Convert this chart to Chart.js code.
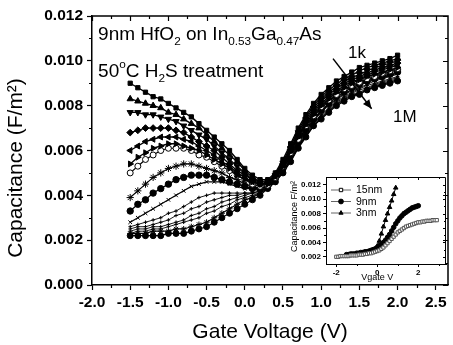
<!DOCTYPE html>
<html><head><meta charset="utf-8">
<script src="https://cdn.jsdelivr.net/npm/chart.js@4.4.1/dist/chart.umd.min.js"></script>
<style>
html,body{margin:0;padding:0;background:#fff;}
#wrap{position:relative;width:453px;height:345px;overflow:hidden;background:#fff;}
#main{position:absolute;left:0;top:0;}
#inset{position:absolute;left:280px;top:168px;}
</style></head><body>
<div id="wrap"><canvas id="main" width="453" height="345"></canvas><canvas id="inset" width="173" height="117"></canvas></div>
<script>
// ---------- DATA (main chart) ----------
const gateVoltage = [-1.5,-1.4,-1.3,-1.2,-1.1,-1.0,-0.9,-0.8,-0.7,-0.6,-0.5,-0.4,-0.3,-0.2,-0.1,0.0,0.1,0.2,0.3,0.4,0.5,0.6,0.7,0.8,0.9,1.0,1.1,1.2,1.3,1.4,1.5,1.6,1.7,1.8,1.9,2.0];
const cap01 = [0.0090,0.0088,0.0086,0.0084,0.0083,0.0081,0.0079,0.0077,0.0075,0.0072,0.0069,0.0066,0.0063,0.0060,0.0056,0.0052,0.0049,0.0047, 0.0047,0.0050,0.0056,0.0063,0.0070,0.0076,0.0081,0.0085,0.0088,0.0091,0.0093,0.0095,0.0097,0.0098,0.0099,0.0100,0.0101,0.01025];
const cap02 = [0.0083,0.0082,0.0081,0.0080,0.0079,0.0077,0.0076,0.0074,0.0072,0.0070,0.0067,0.0064,0.0061,0.0058,0.0055,0.0051,0.0048,0.0046, 0.0046,0.00495,0.0055,0.0062,0.0069,0.0075,0.0080,0.0084,0.0087,0.00895,0.0092,0.00935,0.00955,0.0097,0.0098,0.0099,0.0100,0.0101];
const cap03 = [0.0077,0.0077,0.0076,0.0076,0.0075,0.0074,0.0073,0.0071,0.0069,0.0067,0.0065,0.0062,0.0059,0.0056,0.0053,0.0050,0.0047,0.0046, 0.0046,0.0049,0.00545,0.0061,0.0068,0.0074,0.0079,0.0083,0.0086,0.00885,0.0091,0.00925,0.0094,0.00955,0.0097,0.0098,0.0099,0.0100];
const cap04 = [0.0068,0.0069,0.0070,0.0070,0.0070,0.0070,0.0069,0.0068,0.0066,0.0064,0.0062,0.0060,0.0057,0.0054,0.0051,0.0049,0.0047,0.0045, 0.00455,0.0049,0.0054,0.00605,0.0067,0.0073,0.0078,0.0082,0.0085,0.00875,0.0090,0.00915,0.0093,0.00945,0.0096,0.0097,0.0098,0.0099];
const cap05 = [0.0060,0.0062,0.0064,0.0065,0.0066,0.0066,0.0066,0.0065,0.0064,0.0062,0.0060,0.0058,0.0055,0.0053,0.0050,0.0048,0.0046,0.0045, 0.00455,0.00485,0.00535,0.0060,0.00665,0.0072,0.0077,0.0081,0.0084,0.00865,0.0089,0.00905,0.0092,0.00935,0.0095,0.0096,0.0097,0.0098];
const cap06 = [0.0054,0.0057,0.0059,0.0061,0.0062,0.0063,0.0063,0.0062,0.0061,0.0060,0.0058,0.0056,0.0054,0.0052,0.0049,0.0047,0.0046,0.0045, 0.0045,0.00485,0.0053,0.00595,0.0066,0.00715,0.0076,0.0080,0.0083,0.0086,0.0088,0.0090,0.00915,0.0093,0.0094,0.0095,0.0096,0.0097];
const cap07 = [0.0050,0.0053,0.0056,0.0058,0.0060,0.0061,0.0061,0.0061,0.0060,0.0058,0.0057,0.0055,0.0053,0.0051,0.0049,0.0047,0.0045,0.0044, 0.00445,0.0048,0.0053,0.0059,0.0065,0.0071,0.00755,0.00795,0.00825,0.0085,0.00875,0.0089,0.00905,0.0092,0.0093,0.00945,0.00955,0.00965];
const cap08 = [0.0039,0.0042,0.0045,0.0048,0.0050,0.0052,0.0053,0.0054,0.0054,0.0053,0.0052,0.0051,0.0050,0.0048,0.0047,0.0045,0.0044,0.0043, 0.0044,0.00475,0.00525,0.00585,0.00645,0.0070,0.0075,0.0079,0.0082,0.00845,0.0087,0.00885,0.0090,0.00915,0.00925,0.0094,0.0095,0.0096];
const cap09 = [0.0033,0.0036,0.0038,0.0041,0.0043,0.0045,0.0047,0.0048,0.0049,0.0049,0.0049,0.0048,0.0047,0.0046,0.0045,0.0044,0.0043,0.0043, 0.0044,0.00475,0.0052,0.0058,0.0064,0.00695,0.0074,0.0078,0.0081,0.0084,0.0086,0.0088,0.00895,0.0091,0.0092,0.0093,0.0094,0.0095];
const cap10 = [0.0028,0.0030,0.0032,0.0034,0.0036,0.0038,0.0040,0.0042,0.0044,0.0045,0.0046,0.0046,0.0046,0.0045,0.0044,0.0043,0.0043,0.0042, 0.00435,0.0047,0.0052,0.00575,0.00635,0.0069,0.00735,0.00775,0.00805,0.0083,0.00855,0.0087,0.0089,0.00905,0.00915,0.00925,0.00935,0.00945];
const cap11 = [0.0026,0.0027,0.0028,0.0029,0.0030,0.0032,0.0033,0.0035,0.0037,0.0039,0.0040,0.0041,0.0041,0.0041,0.0041,0.0041,0.0041,0.0042, 0.0043,0.0047,0.00515,0.0057,0.0063,0.00685,0.0073,0.0077,0.0080,0.00825,0.0085,0.00865,0.0088,0.00895,0.0091,0.0092,0.0093,0.0094];
const cap12 = [0.0025,0.0026,0.0026,0.0027,0.0028,0.0029,0.0031,0.0032,0.0034,0.0035,0.0037,0.0038,0.0039,0.0040,0.0040,0.0041,0.0041,0.0042, 0.0043,0.00465,0.0051,0.00565,0.00625,0.0068,0.00725,0.0076,0.0079,0.0082,0.0084,0.0086,0.00875,0.0089,0.0090,0.0091,0.0092,0.0093];
const cap13 = [0.0024,0.0025,0.0025,0.0026,0.0026,0.0027,0.0028,0.0029,0.0031,0.0032,0.0034,0.0035,0.0037,0.0038,0.0039,0.0040,0.0041,0.0041, 0.0043,0.00465,0.0051,0.0056,0.0062,0.00675,0.0072,0.00755,0.00785,0.00815,0.00835,0.00855,0.0087,0.0088,0.00895,0.00905,0.00915,0.00925];
const cap14 = [0.0023,0.0024,0.0024,0.0025,0.0025,0.0026,0.0027,0.0028,0.0029,0.0030,0.0032,0.0033,0.0035,0.0036,0.0038,0.0039,0.0040,0.0041, 0.0043,0.0046,0.00505,0.0056,0.00615,0.0067,0.00715,0.0075,0.0078,0.0081,0.0083,0.0085,0.0086,0.00875,0.0089,0.0090,0.0091,0.0092];
const cap15 = [0.0023,0.0023,0.0023,0.0024,0.0024,0.0024,0.0025,0.0025,0.0026,0.0027,0.0028,0.0030,0.0032,0.0034,0.0036,0.0038,0.0039,0.0041, 0.0043,0.0046,0.00505,0.00555,0.00615,0.00665,0.0071,0.00745,0.00775,0.00805,0.00825,0.00845,0.00855,0.0087,0.00885,0.00895,0.00905,0.00915];
const cap16 = [0.0022,0.0022,0.0022,0.0022,0.0022,0.0023,0.0023,0.0023,0.0024,0.0025,0.0026,0.0028,0.0030,0.0032,0.0034,0.0036,0.0038,0.0040, 0.0043,0.0046,0.0050,0.0055,0.0061,0.0066,0.0071,0.0074,0.0077,0.0080,0.0082,0.0084,0.0085,0.0087,0.0088,0.0089,0.0090,0.0091];
const capCurves = [cap01,cap02,cap03,cap04,cap05,cap06,cap07,cap08,cap09,cap10,cap11,cap12,cap13,cap14,cap15,cap16];
const mainXTicks = [-2.0,-1.5,-1.0,-0.5,0.0,0.5,1.0,1.5,2.0,2.5];
const mainYTicks = [0.000,0.002,0.004,0.006,0.008,0.010,0.012];

// ---------- DATA (inset) ----------
const insetV15 = [-2.0,-1.9,-1.8,-1.7,-1.6,-1.5,-1.4,-1.3,-1.2,-1.1,-1.0,-0.9,-0.8,-0.7,-0.6,-0.5,-0.4,-0.3,-0.2,-0.1,0.0,0.1,0.2,0.3,0.4,0.5,0.6,0.7,0.8,0.9,1.0,1.1,1.2,1.3,1.4,1.5,1.6,1.7,1.8,1.9,2.0,2.1,2.2,2.3,2.4,2.5,2.6,2.7,2.8,2.9];
const insetC15 = [0.0020,0.0020,0.0021,0.0021,0.0021,0.0021,0.0021,0.0022,0.0022,0.0022,0.0022,0.0023,0.0023,0.0023,0.0024,0.0024,0.0025,0.0025,0.0026,0.0027,0.0028,0.0029,0.0031,0.0033,0.0036,0.0039,0.0042,0.0045,0.0048,0.0051,0.0054,0.0056,0.0058,0.0060,0.0062,0.0063,0.0064,0.0065,0.0066,0.0067,0.0068,0.0068,0.0069,0.0069,0.0070,0.0070,0.0070,0.0071,0.0071,0.0071];
const insetV9 = [-1.5,-1.4,-1.3,-1.2,-1.1,-1.0,-0.9,-0.8,-0.7,-0.6,-0.5,-0.4,-0.3,-0.2,-0.1,0.0,0.1,0.2,0.3,0.4,0.5,0.6,0.7,0.8,0.9,1.0,1.1,1.2,1.3,1.4,1.5,1.6,1.7,1.8,1.9,2.0];
const insetC9 = [0.0023,0.0023,0.0024,0.0024,0.0024,0.0025,0.0025,0.0026,0.0026,0.0027,0.0027,0.0028,0.0029,0.0030,0.0031,0.0033,0.0035,0.0037,0.0040,0.0043,0.0047,0.0051,0.0056,0.0061,0.0066,0.0070,0.0074,0.0077,0.0080,0.0082,0.0084,0.0086,0.0088,0.0089,0.0090,0.0091];
const insetV3 = [-0.3,-0.2,-0.1,0.0,0.1,0.2,0.3,0.4,0.5,0.6,0.7,0.8,0.9];
const insetC3 = [0.0028,0.0029,0.0031,0.0035,0.0042,0.0052,0.0062,0.0071,0.0080,0.0089,0.0098,0.0107,0.0116];
const insetXTicks = [-2,0,2];
const insetYTicks = [0.002,0.004,0.006,0.008,0.010,0.012];

// ---------- STYLE ----------
const FONT = "'Liberation Sans', Arial, Helvetica, sans-serif";
const curveStyles = [
  {ps:'rect', r:3, fill:'#000', rot:0, bw:1.4},
  {ps:'triangle', r:3.6, fill:'#000', rot:0, bw:1.4},
  {ps:'triangle', r:3.6, fill:'#000', rot:180, bw:1.4},
  {ps:'rectRot', r:3.4, fill:'#000', rot:0, bw:1.4},
  {ps:'triangle', r:3.4, fill:'#000', rot:270, bw:1.4},
  {ps:'triangle', r:3.4, fill:'#000', rot:90, bw:1.4},
  {ps:'circle', r:3, fill:'#fff', rot:0, bw:1.2},
  {ps:'star', r:3.6, fill:'#000', rot:0, bw:1.2},
  {ps:'circle', r:3.2, fill:'#000', rot:0, bw:1.2},
  {ps:'crossRot', r:2.6, fill:'#000', rot:0, bw:1.2},
  {ps:'cross', r:1.8, fill:'#000', rot:0, bw:0.9},
  {ps:'cross', r:1.8, fill:'#000', rot:0, bw:0.9},
  {ps:'cross', r:1.8, fill:'#000', rot:0, bw:0.9},
  {ps:'cross', r:1.8, fill:'#000', rot:0, bw:0.9},
  {ps:'star', r:3, fill:'#000', rot:0, bw:1.2},
  {ps:'circle', r:3, fill:'#000', rot:0, bw:1.2}
];

function richText(ctx, x, y, parts, size) {
  let cx = x;
  for (const [t, m] of parts) {
    const s = m ? size * 0.62 : size;
    ctx.font = s + 'px ' + FONT;
    const dy = m === 1 ? size * 0.28 : (m === 2 ? -size * 0.45 : 0);
    ctx.fillText(t, cx, y + dy);
    cx += ctx.measureText(t).width;
  }
  return cx;
}

const mainDecor = {
  id: 'mainDecor',
  afterDraw(chart) {
    const {ctx, chartArea: a, scales: {x, y}} = chart;
    ctx.save();
    ctx.strokeStyle = '#000'; ctx.fillStyle = '#000';
    ctx.lineWidth = 1.5;
    ctx.beginPath(); ctx.moveTo(a.left, a.top); ctx.lineTo(a.right, a.top); ctx.lineTo(a.right, a.bottom); ctx.stroke();
    ctx.lineWidth = 1.2;
    ctx.beginPath();
    for (let v = -2.0; v <= 2.66; v += 0.25) {
      const px = Math.round(x.getPixelForValue(v)) + 0.5;
      const major = Math.abs(v * 2 - Math.round(v * 2)) < 1e-6;
      if (!major) { ctx.moveTo(px, a.bottom); ctx.lineTo(px, a.bottom + 3); }
      ctx.moveTo(px, a.top); ctx.lineTo(px, a.top + (major ? 5 : 3));
    }
    for (let v = 0; v <= 0.01201; v += 0.001) {
      const py = Math.round(y.getPixelForValue(v)) + 0.5;
      const major = Math.round(v * 1000) % 2 === 0;
      if (!major) { ctx.moveTo(a.left, py); ctx.lineTo(a.left - 3, py); }
      ctx.moveTo(a.right, py); ctx.lineTo(a.right - (major ? 5 : 3), py);
    }
    ctx.stroke();
    // annotation texts
    ctx.textAlign = 'left'; ctx.textBaseline = 'alphabetic';
    richText(ctx, x.getPixelForValue(-1.92), y.getPixelForValue(0.01094),
      [['9nm HfO',0],['2',1],[' on In',0],['0.53',1],['Ga',0],['0.47',1],['As',0]], 19);
    richText(ctx, x.getPixelForValue(-1.92), y.getPixelForValue(0.00929),
      [['50',0],['o',2],['C H',0],['2',1],['S treatment',0]], 19);
    richText(ctx, x.getPixelForValue(1.35), y.getPixelForValue(0.01013), [['1k',0]], 17);
    richText(ctx, x.getPixelForValue(1.94), y.getPixelForValue(0.00725), [['1M',0]], 17);
    // arrow
    const x0 = x.getPixelForValue(1.155), y0 = y.getPixelForValue(0.01010);
    const x1 = x.getPixelForValue(1.66), y1 = y.getPixelForValue(0.00786);
    ctx.lineWidth = 1.5;
    ctx.beginPath(); ctx.moveTo(x0, y0); ctx.lineTo(x1, y1); ctx.stroke();
    const ang = Math.atan2(y1 - y0, x1 - x0), L = 9, W = 4;
    ctx.beginPath();
    ctx.moveTo(x1, y1);
    ctx.lineTo(x1 - L * Math.cos(ang) + W * Math.sin(ang), y1 - L * Math.sin(ang) - W * Math.cos(ang));
    ctx.lineTo(x1 - L * Math.cos(ang) - W * Math.sin(ang), y1 - L * Math.sin(ang) + W * Math.cos(ang));
    ctx.closePath(); ctx.fill();
    // y title
    ctx.save();
    ctx.translate(16, 168); ctx.rotate(-Math.PI / 2);
    ctx.font = '21px ' + FONT; ctx.textAlign = 'center'; ctx.textBaseline = 'middle';
    ctx.fillText('Capacitance (F/m\u00B2)', 0, 0);
    ctx.restore();
    ctx.restore();
  }
};

const mainDatasets = capCurves.map((c, i) => {
  const s = curveStyles[i];
  return {
    data: gateVoltage.map((v, j) => ({x: v, y: c[j]})),
    borderColor: '#000', borderWidth: s.bw, backgroundColor: s.fill,
    pointStyle: s.ps, pointRadius: s.r, pointRotation: s.rot,
    pointBackgroundColor: s.fill, pointBorderColor: '#000', pointBorderWidth: 1,
    fill: false, tension: 0
  };
});

new Chart(document.getElementById('main'), {
  type: 'line',
  data: {datasets: mainDatasets},
  options: {
    responsive: false, animation: false, devicePixelRatio: 1,
    layout: {padding: {top: 16, right: 1, left: 0, bottom: 0}},
    plugins: {legend: {display: false}, tooltip: {enabled: false}},
    scales: {
      x: {
        type: 'linear', min: -2.0, max: 2.66,
        afterBuildTicks: s => { s.ticks = mainXTicks.map(v => ({value: v})); },
        afterFit: s => { s.height = 60; },
        ticks: {color: '#000', font: {family: FONT, size: 15.5, weight: 'bold'}, padding: 3, maxRotation: 0,
          callback: v => Number(v).toFixed(1)},
        grid: {drawOnChartArea: false, tickLength: 5, color: '#000', tickWidth: 1.2},
        border: {display: true, color: '#000', width: 1.5},
        title: {display: true, text: 'Gate Voltage (V)', color: '#000', font: {family: FONT, size: 21}, padding: {top: 0, bottom: 0}}
      },
      y: {
        type: 'linear', min: 0, max: 0.012,
        afterBuildTicks: s => { s.ticks = mainYTicks.map(v => ({value: v})); },
        afterFit: s => { s.width = 92; },
        ticks: {color: '#000', font: {family: FONT, size: 15.5, weight: 'bold'}, padding: 4,
          callback: v => Number(v).toFixed(3)},
        grid: {drawOnChartArea: false, tickLength: 5, color: '#000', tickWidth: 1.2},
        border: {display: true, color: '#000', width: 1.5},
        title: {display: false}
      }
    }
  },
  plugins: [mainDecor]
});

// ---------- inset ----------
const insetDecor = {
  id: 'insetDecor',
  afterDraw(chart) {
    const {ctx, chartArea: a, scales: {x, y}} = chart;
    ctx.save();
    ctx.strokeStyle = '#000'; ctx.fillStyle = '#000'; ctx.lineWidth = 1;
    ctx.beginPath(); ctx.moveTo(a.left, a.top + 0.5); ctx.lineTo(a.right - 0.5, a.top + 0.5); ctx.lineTo(a.right - 0.5, a.bottom); ctx.stroke();
    ctx.beginPath();
    for (let v = -2; v <= 3; v += 1) {
      const px = Math.round(x.getPixelForValue(v)) + 0.5;
      const major = v % 2 === 0;
      if (!major) { ctx.moveTo(px, a.bottom); ctx.lineTo(px, a.bottom + 2); }
      ctx.moveTo(px, a.top); ctx.lineTo(px, a.top + (major ? 3 : 2));
    }
    for (let k = 2; k <= 12; k += 1) {
      const py = Math.round(y.getPixelForValue(k / 1000)) + 0.5;
      const major = k % 2 === 0;
      if (!major) { ctx.moveTo(a.left, py); ctx.lineTo(a.left - 2, py); }
      ctx.moveTo(a.right, py); ctx.lineTo(a.right - (major ? 3 : 2), py);
    }
    ctx.stroke();
    // legend
    const items = [['15nm','rect','#fff',0],['9nm','circle','#000',0],['3nm','triangle','#000',0]];
    items.forEach((it, i) => {
      const ly = a.top + 13 + i * 11.5, lx = a.left + 5;
      ctx.strokeStyle = '#666'; ctx.lineWidth = 1;
      ctx.beginPath(); ctx.moveTo(lx, ly); ctx.lineTo(lx + 20, ly); ctx.stroke();
      ctx.strokeStyle = '#000'; ctx.fillStyle = it[2];
      Chart.helpers.drawPoint(ctx, {pointStyle: it[1], radius: 2.4, rotation: 0, borderWidth: 1}, lx + 10, ly);
      ctx.fillStyle = '#000';
      ctx.font = '10.5px ' + FONT; ctx.textAlign = 'left'; ctx.textBaseline = 'middle';
      ctx.fillText(it[0], lx + 25, ly + 0.5);
    });
    // titles
    ctx.font = '9px ' + FONT; ctx.textAlign = 'center'; ctx.textBaseline = 'middle';
    ctx.fillText('Vgate V', x.getPixelForValue(0), 110);
    ctx.save();
    ctx.translate(15, (a.top + a.bottom) / 2 - 4); ctx.rotate(-Math.PI / 2);
    ctx.fillText('Capacitance F/m\u00B2', 0, 0);
    ctx.restore();
    ctx.restore();
  }
};

const mk = (vs, cs) => vs.map((v, j) => ({x: v, y: cs[j]}));
new Chart(document.getElementById('inset'), {
  type: 'line',
  data: {datasets: [
    {data: mk(insetV15, insetC15), borderColor: '#888', borderWidth: 1, pointStyle: 'rect', pointRadius: 2.3, pointBackgroundColor: '#fff', pointBorderColor: '#555', pointBorderWidth: 1},
    {data: mk(insetV9, insetC9), borderColor: '#000', borderWidth: 1, pointStyle: 'circle', pointRadius: 2.3, pointBackgroundColor: '#000', pointBorderColor: '#000'},
    {data: mk(insetV3, insetC3), borderColor: '#000', borderWidth: 1, pointStyle: 'triangle', pointRadius: 2.6, pointBackgroundColor: '#000', pointBorderColor: '#000'}
  ]},
  options: {
    responsive: false, animation: false, devicePixelRatio: 1,
    layout: {padding: {top: 9, right: 7, left: 0, bottom: 0}},
    plugins: {legend: {display: false}, tooltip: {enabled: false}},
    scales: {
      x: {
        type: 'linear', min: -2.5, max: 3.35,
        afterBuildTicks: s => { s.ticks = insetXTicks.map(v => ({value: v})); },
        afterFit: s => { s.height = 21; },
        ticks: {color: '#000', font: {family: FONT, size: 8, weight: 'bold'}, padding: 1, maxRotation: 0, callback: v => String(v)},
        grid: {drawOnChartArea: false, tickLength: 3, color: '#000'},
        border: {display: true, color: '#000', width: 1}
      },
      y: {
        type: 'linear', min: 0.001, max: 0.0131,
        afterBuildTicks: s => { s.ticks = insetYTicks.map(v => ({value: v})); },
        afterFit: s => { s.width = 46; },
        ticks: {color: '#000', font: {family: FONT, size: 8, weight: 'bold'}, padding: 2, callback: v => Number(v).toFixed(3)},
        grid: {drawOnChartArea: false, tickLength: 3, color: '#000'},
        border: {display: true, color: '#000', width: 1}
      }
    }
  },
  plugins: [insetDecor]
});
</script>
</body></html>
